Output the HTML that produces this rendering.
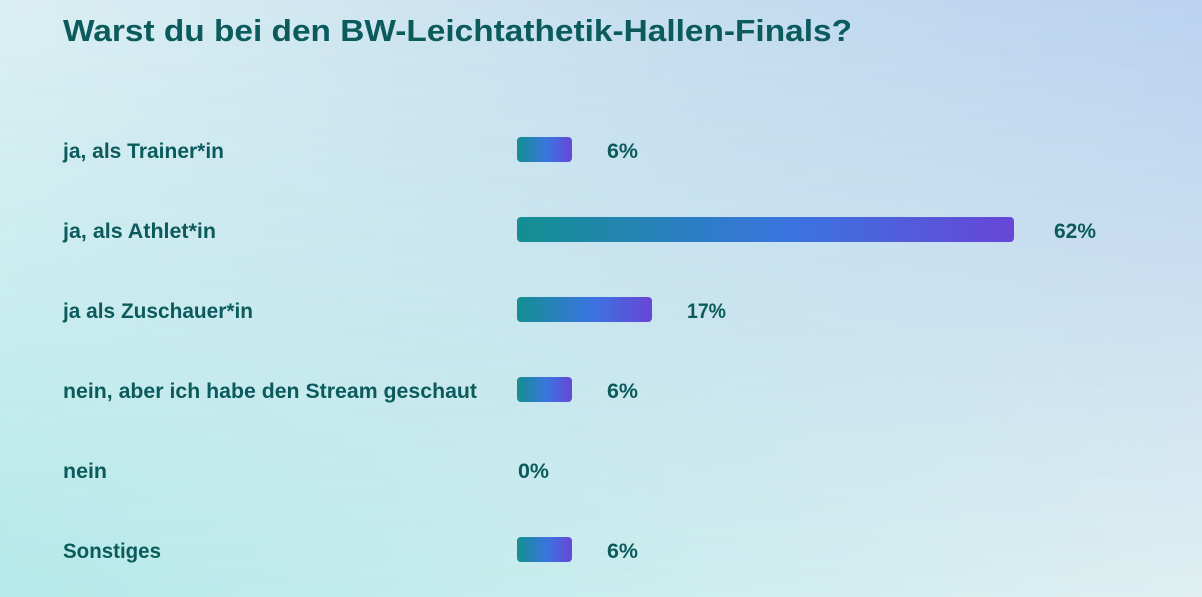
<!DOCTYPE html>
<html>
<head>
<meta charset="utf-8">
<style>
  html, body { margin: 0; padding: 0; }
  body { width: 1202px; height: 597px; overflow: hidden; position: relative;
    background: linear-gradient(to right, #b5eaea, #e0f0f2); }
  .top { position: absolute; left: 0; top: 0; width: 1202px; height: 597px;
    background: linear-gradient(to right, #dbeff2, #c6ddef 55%, #bad2ef);
    -webkit-mask-image: linear-gradient(to bottom, #000 0%, rgba(0,0,0,0.55) 50%, rgba(0,0,0,0) 100%);
    mask-image: linear-gradient(to bottom, #000 0%, rgba(0,0,0,0.55) 50%, rgba(0,0,0,0) 100%); }
  svg { position: absolute; left: 0; top: 0; }
  text { font-family: "Liberation Sans", sans-serif; font-weight: bold; fill: #0b5b5d; }
</style>
</head>
<body>
<div class="top"></div>
<svg width="1202" height="597" viewBox="0 0 1202 597" xmlns="http://www.w3.org/2000/svg">
  <defs>
    <linearGradient id="g" x1="0" y1="0" x2="1" y2="0">
      <stop offset="0" stop-color="#138f91"/>
      <stop offset="0.55" stop-color="#3a74e0"/>
      <stop offset="1" stop-color="#6846d6"/>
    </linearGradient>
  </defs>
  <text x="63" y="41" font-size="30.5" textLength="789" lengthAdjust="spacingAndGlyphs">Warst du bei den BW-Leichtathetik-Hallen-Finals?</text>

  <!-- row 1 -->
  <text x="63" y="158" font-size="21.5" textLength="161" lengthAdjust="spacingAndGlyphs">ja, als Trainer*in</text>
  <rect x="517" y="137" width="55" height="25" rx="4" fill="url(#g)"/>
  <text x="607" y="158" font-size="21.5" textLength="31" lengthAdjust="spacingAndGlyphs">6%</text>

  <!-- row 2 -->
  <text x="63" y="238" font-size="21.5" textLength="153" lengthAdjust="spacingAndGlyphs">ja, als Athlet*in</text>
  <rect x="517" y="217" width="497" height="25" rx="4" fill="url(#g)"/>
  <text x="1054" y="238" font-size="21.5" textLength="42" lengthAdjust="spacingAndGlyphs">62%</text>

  <!-- row 3 -->
  <text x="63" y="318" font-size="21.5" textLength="190" lengthAdjust="spacingAndGlyphs">ja als Zuschauer*in</text>
  <rect x="517" y="297" width="135" height="25" rx="4" fill="url(#g)"/>
  <text x="687" y="318" font-size="21.5" textLength="39" lengthAdjust="spacingAndGlyphs">17%</text>

  <!-- row 4 -->
  <text x="63" y="398" font-size="21.5" textLength="414" lengthAdjust="spacingAndGlyphs">nein, aber ich habe den Stream geschaut</text>
  <rect x="517" y="377" width="55" height="25" rx="4" fill="url(#g)"/>
  <text x="607" y="398" font-size="21.5" textLength="31" lengthAdjust="spacingAndGlyphs">6%</text>

  <!-- row 5 -->
  <text x="63" y="478" font-size="21.5" textLength="44" lengthAdjust="spacingAndGlyphs">nein</text>
  <text x="518" y="478" font-size="21.5" textLength="31" lengthAdjust="spacingAndGlyphs">0%</text>

  <!-- row 6 -->
  <text x="63" y="558" font-size="21.5" textLength="98" lengthAdjust="spacingAndGlyphs">Sonstiges</text>
  <rect x="517" y="537" width="55" height="25" rx="4" fill="url(#g)"/>
  <text x="607" y="558" font-size="21.5" textLength="31" lengthAdjust="spacingAndGlyphs">6%</text>
</svg>
</body>
</html>
